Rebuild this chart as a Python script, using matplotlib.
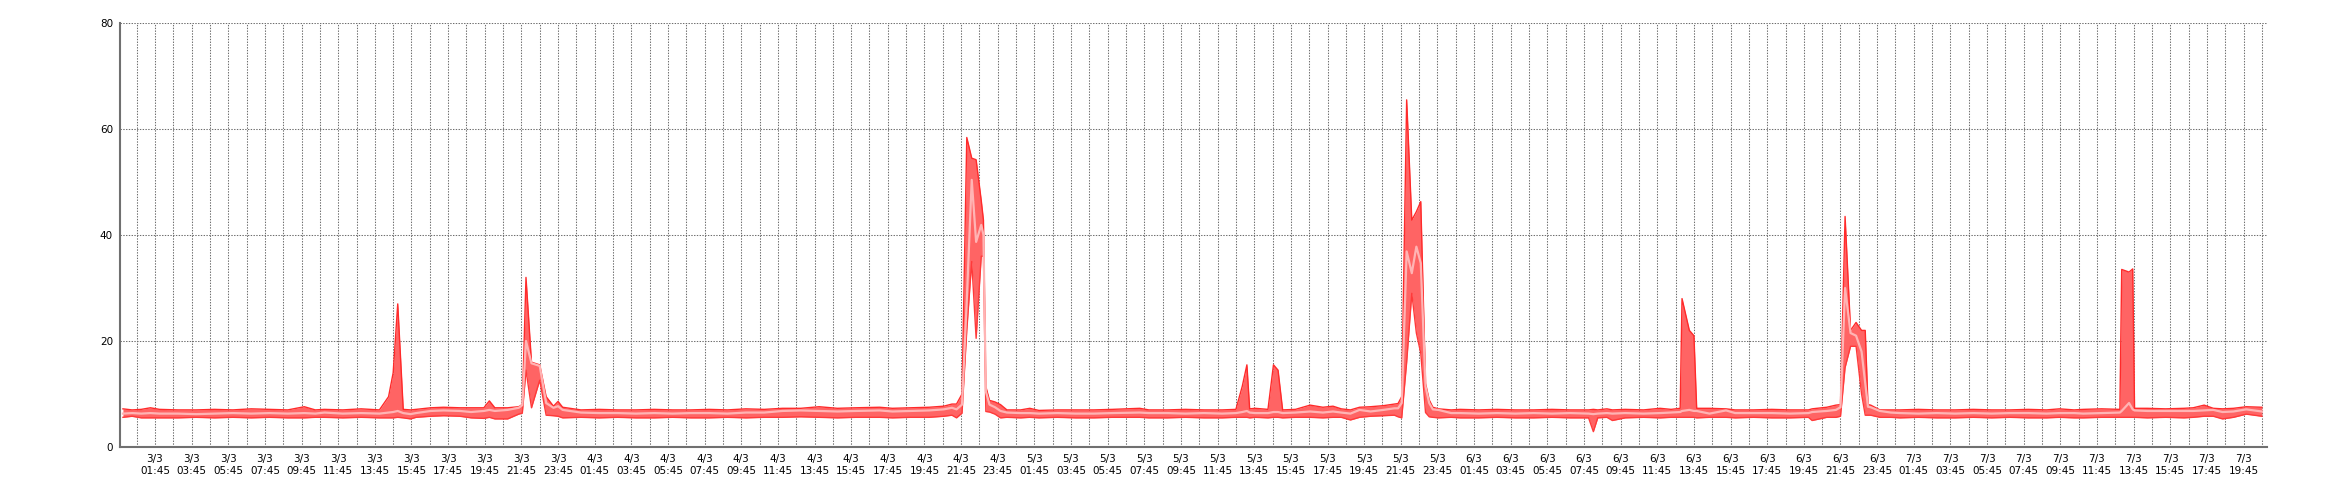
import datetime as dt

import matplotlib
matplotlib.use("Agg")
import matplotlib.pyplot as plt

# hours since 3/3 00:00
hours = [
    0.0, 0.5, 1.0, 1.5, 2.0, 3.0, 4.0, 5.0, 6.0, 7.0, 8.0, 9.0, 9.9, 10.5, 11.0, 12.0, 13.0, 14.0,
    14.5, 14.75, 15.0, 15.3, 15.7, 16.0, 16.8, 17.5, 18.4, 19.0, 19.7, 20.0, 20.3, 21.0, 21.6, 21.8,
    22.0, 22.3, 22.75, 23.1, 23.5, 23.75, 24.0,
    25.0, 26.0, 27.0, 28.0, 29.0, 30.0, 31.0, 32.0, 33.0, 34.0, 35.0, 36.0, 37.0, 38.0, 39.0, 40.0,
    41.3, 42.0, 43.0, 44.0, 44.8, 45.25, 45.5, 45.8, 46.06, 46.33, 46.57, 46.85, 46.97, 47.1, 47.3,
    47.6, 47.9, 48.25,
    49.0, 49.5, 50.0, 51.0, 52.0, 53.0, 54.0, 55.5, 56.0, 57.0, 58.0, 59.0, 60.0, 60.75, 61.1, 61.35,
    61.5, 61.8, 62.5, 62.8, 63.05, 63.3, 64.0, 64.8, 65.5, 66.05, 66.5, 67.0, 67.5, 68.1, 68.8, 69.4,
    69.6, 69.8, 70.07, 70.35, 70.6, 70.84, 71.1, 71.3, 71.5, 71.8,
    72.5, 73.0, 74.0, 75.0, 76.0, 77.0, 78.0, 79.0, 80.0, 80.26, 80.5, 81.0, 81.3, 82.0, 83.0, 83.9,
    84.5, 85.0, 85.1, 85.5, 85.75, 85.9, 86.6, 87.5, 88.0, 89.0, 90.0, 91.0, 92.0, 92.2, 93.0, 93.5,
    93.75, 94.0, 94.3, 94.6, 94.9, 95.1, 95.25, 95.4, 95.9,
    96.5, 97.0, 98.0, 99.0, 100.0, 101.0, 102.0, 103.0, 104.0, 105.0, 105.7, 106.5, 107.0, 108.0,
    109.0, 109.1, 109.5, 109.7, 109.8, 110.5, 111.5, 112.5, 113.0, 113.6, 114.1, 114.6, 115.2,
    115.9, 116.75,
]
peak = [
    7.2, 7.0, 7.1, 7.4, 7.1, 7.0, 7.0, 7.1, 7.0, 7.2, 7.1, 7.0, 7.6, 7.0, 7.1, 7.0, 7.2, 7.0,
    9.5, 14.0, 27.0, 7.1, 7.0, 7.1, 7.4, 7.5, 7.4, 7.4, 7.4, 8.7, 7.4, 7.4, 7.6, 8.0,
    32.0, 16.0, 15.5, 9.5, 7.7, 8.6, 7.5,
    7.0, 7.1, 7.0, 7.0, 7.1, 7.0, 7.0, 7.1, 7.0, 7.2, 7.1, 7.3, 7.3, 7.6, 7.3, 7.4,
    7.5, 7.3, 7.4, 7.5, 7.7, 8.1, 8.1, 10.0, 58.4, 54.5, 54.2, 46.5, 42.8, 11.4, 8.8,
    8.5, 8.0, 7.0,
    7.0, 7.3, 6.9, 7.0, 7.0, 7.0, 7.1, 7.3, 7.0, 7.0, 7.1, 7.0, 7.0, 7.1, 11.5, 15.5,
    7.2, 7.3, 7.1, 15.5, 14.5, 7.0, 7.1, 7.9, 7.5, 7.7, 7.2, 7.0, 7.5, 7.6, 7.8, 8.1,
    8.2, 9.5, 65.5, 42.8, 44.4, 46.3, 12.0, 8.9, 7.5, 7.2,
    7.0, 7.1, 7.0, 7.1, 7.0, 7.0, 7.1, 7.0, 7.0, 7.1, 7.0, 7.2, 7.0, 7.1, 7.0, 7.3,
    7.1, 7.3, 28.0, 22.0, 21.0, 7.3, 7.3, 7.2, 7.0, 7.0, 7.1, 7.0, 7.0, 7.2, 7.5, 7.9,
    8.0, 43.5, 22.0, 23.5, 22.0, 22.0, 8.0, 7.9, 7.0,
    7.0, 7.0, 7.1, 7.0, 7.0, 7.1, 7.0, 7.0, 7.1, 7.0, 7.2, 7.0, 7.1, 7.2,
    7.1, 33.5, 33.0, 33.6, 7.3, 7.3, 7.2, 7.3, 7.4, 7.9, 7.3, 7.2, 7.3,
    7.6, 7.5,
]
mean = [
    6.3, 6.4, 6.3, 6.4, 6.3, 6.3, 6.2, 6.3, 6.4, 6.3, 6.4, 6.3, 6.4, 6.3, 6.5, 6.3, 6.4, 6.3,
    6.5, 6.6, 6.8, 6.4, 6.2, 6.4, 6.8, 6.9, 6.8, 6.6, 6.8, 7.0, 6.8, 7.0, 7.4, 7.9,
    20.0, 15.8, 15.3, 8.3, 7.4, 7.7, 7.0,
    6.5, 6.4, 6.4, 6.3, 6.4, 6.3, 6.4, 6.4, 6.3, 6.5, 6.5, 6.8, 6.9, 6.8, 6.7, 6.8,
    6.9, 6.7, 6.8, 6.9, 7.1, 7.4, 7.1, 8.0, 27.7, 50.4, 38.7, 41.9, 40.0, 10.5, 8.0,
    7.5, 6.8, 6.5,
    6.4, 6.4, 6.3, 6.4, 6.3, 6.3, 6.4, 6.5, 6.4, 6.4, 6.3, 6.4, 6.3, 6.4, 6.6, 6.8,
    6.5, 6.4, 6.4, 6.6, 6.6, 6.4, 6.5, 6.7, 6.5, 6.7, 6.5, 6.3, 7.0, 6.7, 7.0, 7.3,
    7.3, 8.3, 36.9, 32.8, 37.8, 34.7, 11.4, 8.3, 7.1, 7.0,
    6.4, 6.4, 6.3, 6.4, 6.3, 6.4, 6.3, 6.4, 6.3, 6.2, 6.3, 6.4, 6.3, 6.4, 6.3, 6.4,
    6.5, 6.6, 6.8, 7.0, 6.8, 6.8, 6.3, 6.9, 6.4, 6.4, 6.4, 6.3, 6.4, 6.6, 6.8, 7.0,
    7.5, 30.0, 21.5, 21.0, 18.0, 12.0, 7.6, 7.5, 6.8,
    6.5, 6.4, 6.3, 6.4, 6.3, 6.4, 6.3, 6.4, 6.4, 6.3, 6.4, 6.4, 6.3, 6.4,
    6.5, 6.8, 8.3, 7.1, 6.9, 6.8, 6.8, 6.8, 6.8, 6.9, 7.0, 6.6, 6.7,
    7.1, 6.7,
]
low = [
    5.6, 5.8, 5.5, 5.5, 5.5, 5.5, 5.6, 5.5, 5.6, 5.5, 5.6, 5.5, 5.5, 5.6, 5.6, 5.5, 5.6, 5.5,
    5.5, 5.5, 5.6, 5.5, 5.3, 5.6, 5.8, 5.9, 5.8, 5.5, 5.4, 5.6, 5.3, 5.3, 6.2, 6.4,
    14.5, 7.4, 12.6, 6.0, 5.9, 5.8, 5.5,
    5.6, 5.5, 5.6, 5.5, 5.5, 5.6, 5.5, 5.5, 5.6, 5.5, 5.6, 5.6, 5.7, 5.6, 5.5, 5.6,
    5.6, 5.5, 5.6, 5.6, 5.8, 6.0, 5.5, 6.4, 22.0, 35.0, 20.5, 36.0, 36.0, 6.7, 6.6,
    6.2, 5.5, 5.6,
    5.5, 5.6, 5.5, 5.6, 5.5, 5.5, 5.6, 5.6, 5.5, 5.5, 5.6, 5.5, 5.5, 5.6, 5.6, 5.6,
    5.5, 5.6, 5.5, 5.6, 5.6, 5.5, 5.6, 5.6, 5.5, 5.6, 5.6, 5.1, 5.6, 5.8, 5.9, 6.0,
    5.7, 5.5, 16.0, 29.0, 21.5, 17.7, 6.5, 5.7, 5.6, 5.5,
    5.6, 5.5, 5.5, 5.6, 5.5, 5.5, 5.6, 5.5, 5.5, 2.9, 5.5, 5.6, 5.0, 5.5, 5.6, 5.5,
    5.6, 5.6, 5.6, 5.6, 5.6, 5.5, 5.6, 5.6, 5.5, 5.6, 5.5, 5.5, 5.6, 5.0, 5.6, 5.6,
    5.8, 15.0, 19.0, 19.0, 10.0, 6.0, 6.0, 6.0, 5.6,
    5.6, 5.5, 5.6, 5.5, 5.5, 5.6, 5.5, 5.6, 5.5, 5.5, 5.6, 5.5, 5.5, 5.6,
    5.6, 5.6, 5.6, 5.6, 5.6, 5.5, 5.6, 5.5, 5.6, 5.8, 5.8, 5.3, 5.6,
    6.2, 5.8,
]

START = dt.datetime(2024, 3, 3, 0, 0)
Y_TICKS = [0, 20, 40, 60, 80]

fig = plt.figure(figsize=(23.4, 5.0), dpi=100)
ax = fig.add_axes([120 / 2340, 53 / 500, 2147 / 2340, 424 / 500])

ax.fill_between(hours, low, peak, color="#ff6464", lw=0, zorder=2)
ax.plot(hours, peak, color="#ff2a2a", lw=1.0, zorder=3)
ax.plot(hours, low, color="#ff3a3a", lw=1.0, zorder=3)
ax.plot(hours, mean, color="#ffb4b4", lw=1.6, zorder=4)

ax.set_xlim(-0.16, 117.03)
ax.set_ylim(0, 80)

# vertical grid every hour at :45, labels every second hour
grid_x = [h + 0.75 for h in range(0, 117)]
label_x = grid_x[1::2]
for gx in grid_x:
    ax.axvline(gx, color="#6e6e6e", lw=0.75, ls=(0, (1.33, 1.33)), zorder=1)
for gy in Y_TICKS[1:]:
    ax.axhline(gy, color="#6e6e6e", lw=0.75, ls=(0, (1.33, 1.33)), zorder=1)

labels = []
for lx in label_x:
    t = START + dt.timedelta(hours=lx)
    labels.append(f"{t.day}/{t.month}\n{t:%H:%M}")
ax.set_xticks(label_x)
ax.set_xticklabels(labels, fontsize=7.5, color="#000000", linespacing=1.25)
ax.set_yticks(Y_TICKS)
ax.set_yticklabels([str(v) for v in Y_TICKS], fontsize=7.5, color="#000000")
ax.tick_params(axis="both", length=0, pad=5)

for side in ("top", "right"):
    ax.spines[side].set_visible(False)
for side in ("left", "bottom"):
    ax.spines[side].set_color("#707070")
    ax.spines[side].set_linewidth(1.5)

fig.savefig("out.png", dpi=100)
